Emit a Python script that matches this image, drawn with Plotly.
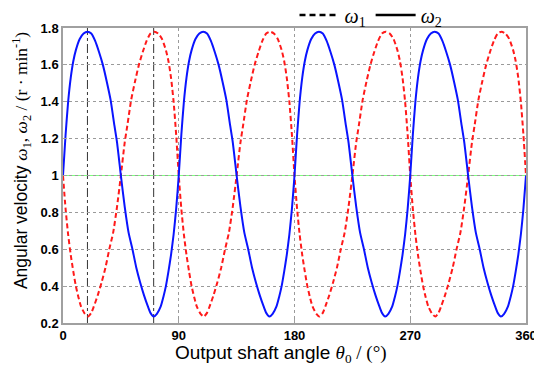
import plotly.graph_objects as go

# ---- data (one 90-degree period, repeated 4 times) ----
PERIOD = 90
N_PERIODS = 4

OMEGA2_DEG = [0, 2, 4, 6, 8, 10, 13, 16, 19, 22, 25, 28, 31, 34, 37, 40, 42, 45,
              48, 51, 54, 57, 60, 63, 66, 68, 70.5, 73, 76, 78, 80, 82, 84, 86, 88]
OMEGA2_VAL = [1.00, 1.22, 1.40, 1.53, 1.62, 1.68, 1.74, 1.77, 1.78, 1.77, 1.73, 1.67,
              1.60, 1.51, 1.41, 1.27, 1.18, 1.00, 0.83, 0.69, 0.60, 0.50, 0.42, 0.35,
              0.29, 0.255, 0.235, 0.25, 0.29, 0.34, 0.40, 0.48, 0.57, 0.68, 0.82]

OMEGA1_DEG = [0, 2, 4, 6, 8, 10, 12, 14, 17, 19.5, 22, 24, 27, 30, 33, 36, 39, 42,
              45, 48, 50, 53, 56, 59, 62, 65, 68, 71, 74, 77, 80, 82, 84, 86, 88]
OMEGA1_VAL = [1.00, 0.82, 0.68, 0.57, 0.48, 0.40, 0.34, 0.29, 0.25, 0.235, 0.255, 0.29,
              0.35, 0.42, 0.50, 0.60, 0.69, 0.83, 1.00, 1.18, 1.27, 1.41, 1.51, 1.60,
              1.67, 1.73, 1.77, 1.78, 1.77, 1.74, 1.68, 1.62, 1.53, 1.40, 1.22]
END_VAL = 1.00

MARK_DEG = [19, 70.5]          # dash-dot reference lines
REF_LEVEL = 1.0                # green reference line

X_TICKS = [0, 90, 180, 270, 360]
Y_TICKS = [0.2, 0.4, 0.6, 0.8, 1.0, 1.2, 1.4, 1.6, 1.8]
Y_TICK_TEXT = ["0.2", "0.4", "0.6", "0.8", "1", "1.2", "1.4", "1.6", "1.8"]


def tile(degs, vals):
    xs, ys = [], []
    for k in range(N_PERIODS):
        xs += [d + k * PERIOD for d in degs]
        ys += list(vals)
    xs.append(N_PERIODS * PERIOD)
    ys.append(END_VAL)
    return xs, ys


x1, y1 = tile(OMEGA1_DEG, OMEGA1_VAL)
x2, y2 = tile(OMEGA2_DEG, OMEGA2_VAL)

fig = go.Figure()
fig.add_trace(go.Scatter(x=x1, y=y1, mode="lines", showlegend=False,
                         line=dict(color="#ff1a1a", width=2, dash="5px,3px", shape="spline", smoothing=0.6)))
fig.add_trace(go.Scatter(x=x2, y=y2, mode="lines", showlegend=False,
                         line=dict(color="#0a14ff", width=2, shape="spline", smoothing=0.6)))
# legend entries (black samples)
fig.add_trace(go.Scatter(x=[None], y=[None], mode="lines", name="<i>ω</i><sub>1</sub>",
                         line=dict(color="black", width=2.5, dash="6px,4px")))
fig.add_trace(go.Scatter(x=[None], y=[None], mode="lines", name="<i>ω</i><sub>2</sub>",
                         line=dict(color="black", width=2.5)))

shapes = [dict(type="line", xref="x", yref="paper", x0=m, x1=m, y0=0, y1=1,
               line=dict(color="#333333", width=1, dash="dashdot"), layer="below")
          for m in MARK_DEG]
shapes.append(dict(type="line", xref="paper", yref="y", x0=0, x1=1, y0=REF_LEVEL, y1=REF_LEVEL,
                   line=dict(color="#7dff7d", width=1), layer="below"))
fig.update_layout(shapes=shapes)

serif = "Liberation Serif, Times New Roman, serif"
tickfont = dict(size=13, family="Arial, Liberation Sans, sans-serif", weight="bold", color="black")
fig.update_layout(
    width=542, height=371,
    margin=dict(l=55, r=24, t=20, b=56, autoexpand=False),
    paper_bgcolor="white", plot_bgcolor="white",
    font=dict(family="Arial, Liberation Sans, sans-serif", color="black"),
    legend=dict(orientation="h", x=0.5, xanchor="left", y=1.11, yanchor="top",
                font=dict(family=serif, size=20, color="black"),
                bgcolor="rgba(0,0,0,0)", itemwidth=40, tracegroupgap=0),
    xaxis=dict(range=[0, 360], tickvals=X_TICKS, ticks="inside", ticklen=4,
               tickfont=tickfont,
               showgrid=True, gridcolor="#9a9a9a", griddash="dot", gridwidth=1,
               showline=True, mirror=True, linecolor="#a0a0a0", linewidth=1.5,
               zeroline=False, tickcolor="#a0a0a0"),
    yaxis=dict(range=[0.2, 1.8], tickvals=Y_TICKS, ticktext=Y_TICK_TEXT, ticks="inside", ticklen=4,
               tickfont=tickfont,
               showgrid=True, gridcolor="#9a9a9a", griddash="dot", gridwidth=1,
               showline=True, mirror=True, linecolor="#a0a0a0", linewidth=1.5,
               zeroline=False, tickcolor="#a0a0a0"),
)

fig.add_annotation(
    xref="paper", yref="paper", x=0.47, y=-0.105, xanchor="center", yanchor="middle",
    showarrow=False, font=dict(size=19, family="Arial, Liberation Sans, sans-serif"),
    text=('Output shaft angle <span style="font-family:Liberation Serif"><i>θ</i><sub>0</sub>'
          ' / (°)</span>'))
fig.add_annotation(
    xref="paper", yref="paper", x=-0.09, y=0.55, xanchor="center", yanchor="middle",
    textangle=-90, showarrow=False, font=dict(size=17.5, family="Arial, Liberation Sans, sans-serif"),
    text=('Angular velocity <span style="font-family:Liberation Serif"><i>ω</i><sub>1</sub>, '
          '<i>ω</i><sub>2</sub> / (r · min<sup>-1</sup>)</span>'))

fig.write_html("out.html")
